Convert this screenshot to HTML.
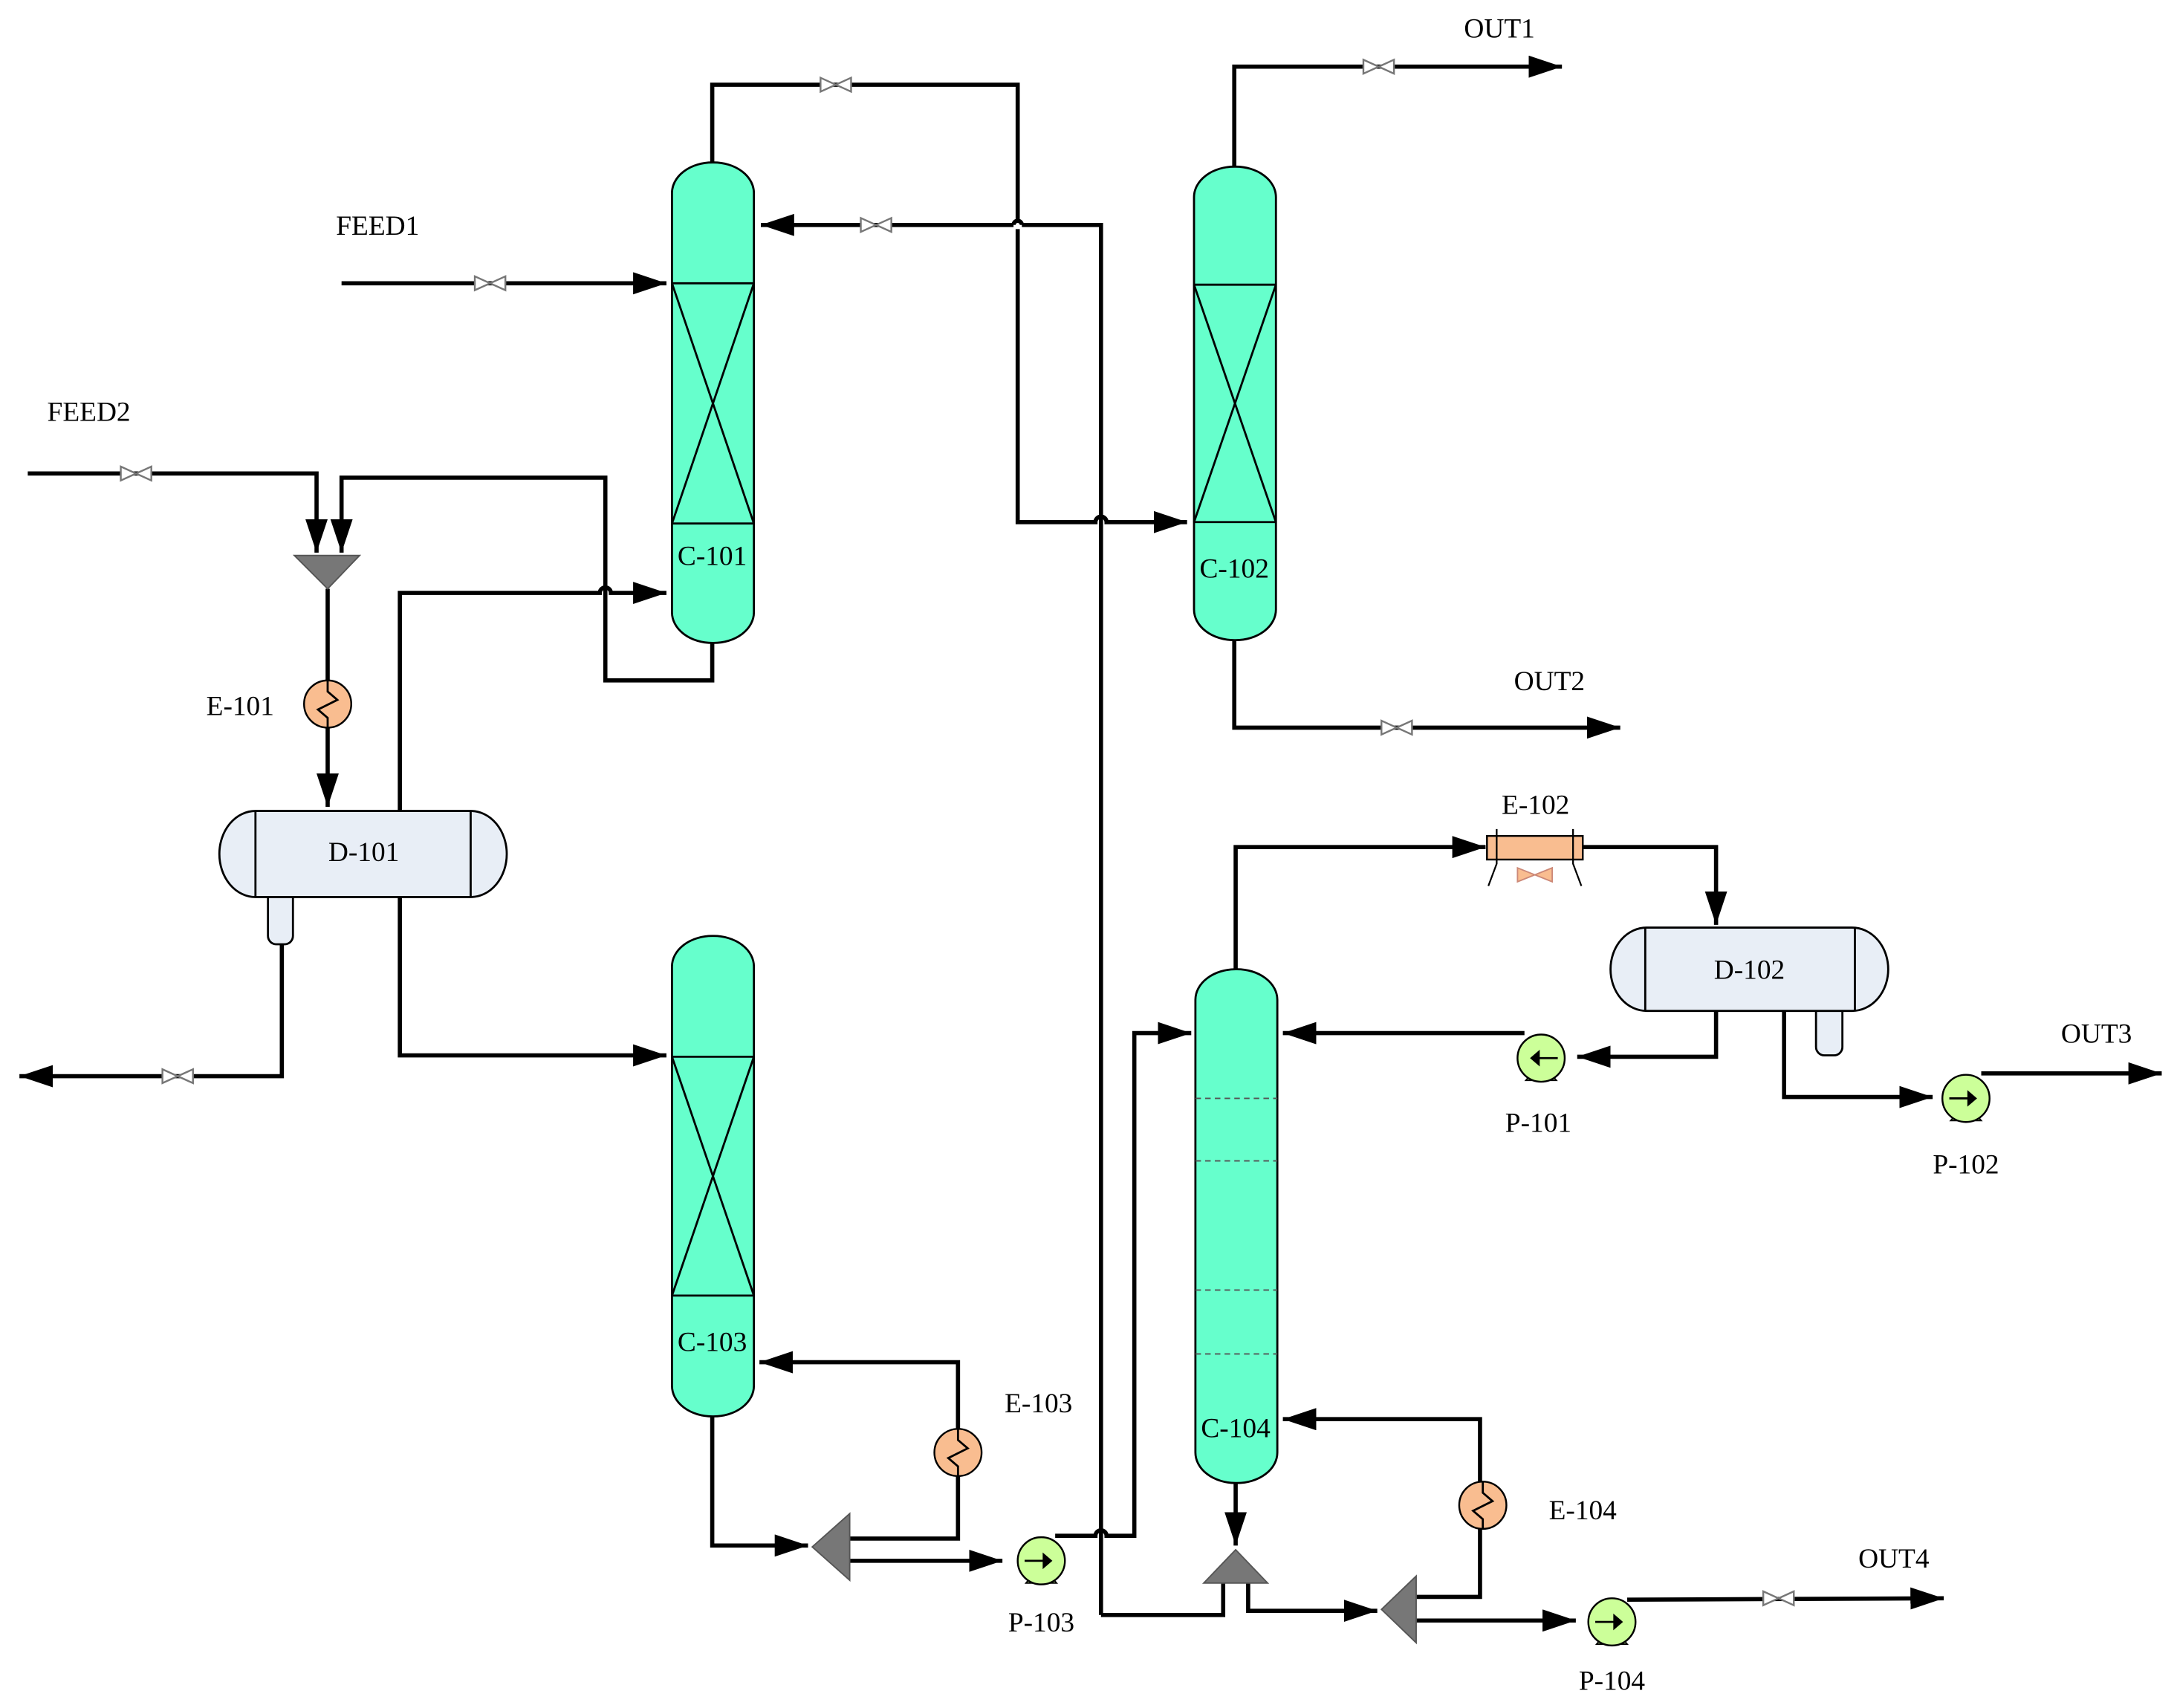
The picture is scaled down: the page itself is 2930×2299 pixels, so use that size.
<!DOCTYPE html>
<html><head><meta charset="utf-8"><style>html,body{margin:0;padding:0;background:#fff}svg{display:block}</style></head>
<body>
<svg width="2930" height="2299" viewBox="0 0 1568 1230" preserveAspectRatio="none" xmlns="http://www.w3.org/2000/svg" font-family="'Liberation Serif', serif" font-size="20">
<defs>
<marker id="a" markerUnits="userSpaceOnUse" markerWidth="26" markerHeight="18" refX="24" refY="8" orient="auto"><polygon points="0,0 24,8 0,16" fill="#000"/></marker>
<g id="v"><polygon points="-11,-5 11,5 11,-5 -11,5" fill="#fff" stroke="#777" stroke-width="1.3"/></g>
<g id="p"><path d="M-11,16 L-6,10 L6,10 L11,16 Z" fill="#ccff99" stroke="#000" stroke-width="1"/><circle r="17" fill="#ccff99" stroke="#000" stroke-width="1.3"/><line x1="-12" y1="0" x2="6" y2="0" stroke="#000" stroke-width="1.5"/><polygon points="8,0 1,-6 1,6" fill="#000"/></g>
<g id="hx"><circle r="17" fill="#f9bd90" stroke="#000" stroke-width="1.3"/><path d="M0,-17 L0,-9 L7,-3 L-7,4 L0,10 L0,17" fill="none" stroke="#000" stroke-width="1.5"/></g>
</defs>
<g fill="none" stroke="#000" stroke-width="3">
<polyline points="513,117 513,61 733,61 733,159"/>
<path d="M733,165 L733,376 L789,376 a4,4 0 0 1 8,0 L855,376" marker-end="url(#a)"/>
<path d="M730,162 a3,3 0 0 1 6,0"/>
<path d="M793,1163 L793,162 L736,162 M730,162 L548,162" marker-end="url(#a)"/>
<path d="M246,204 L480,204" marker-end="url(#a)"/>
<path d="M20,341 L228,341 L228,398" marker-end="url(#a)"/>
<path d="M513,463 L513,490 L436,490 L436,344 L246,344 L246,398" marker-end="url(#a)"/>
<path d="M236,424 L236,581" marker-end="url(#a)"/>
<path d="M288,584 L288,427 L432,427 a4,4 0 0 1 8,0 L480,427" marker-end="url(#a)"/>
<path d="M288,646 L288,760 L480,760" marker-end="url(#a)"/>
<path d="M203,680 L203,775 L14,775" marker-end="url(#a)"/>
<path d="M889,120 L889,48 L1125,48" marker-end="url(#a)"/>
<path d="M889,461 L889,524 L1167,524" marker-end="url(#a)"/>
<path d="M890,698 L890,610 L1070,610" marker-end="url(#a)"/>
<path d="M1140,610 L1236,610 L1236,666" marker-end="url(#a)"/>
<path d="M1236,728 L1236,761 L1136,761" marker-end="url(#a)"/>
<path d="M1098,744 L924,744" marker-end="url(#a)"/>
<path d="M1285,728 L1285,790 L1392,790" marker-end="url(#a)"/>
<path d="M1427,773 L1557,773" marker-end="url(#a)"/>
<path d="M513,1020 L513,1113 L582,1113" marker-end="url(#a)"/>
<path d="M612,1108 L690,1108 L690,1063 M690,1029 L690,981 L547,981" marker-end="url(#a)"/>
<path d="M612,1124 L722,1124" marker-end="url(#a)"/>
<path d="M760,1106 L789,1106 a4,4 0 0 1 8,0 L817,1106 L817,744 L858,744" marker-end="url(#a)"/>
<path d="M890,1068 L890,1113" marker-end="url(#a)"/>
<path d="M793,1163 L881,1163 L881,1140"/>
<path d="M899,1140 L899,1160 L992,1160" marker-end="url(#a)"/>
<path d="M1020,1150 L1066,1150 L1066,1101 M1066,1067 L1066,1022 L924,1022" marker-end="url(#a)"/>
<path d="M1020,1167 L1135,1167" marker-end="url(#a)"/>
<path d="M1172,1152 L1400,1151" marker-end="url(#a)"/>
</g>
<g fill="#66ffcc" stroke="#000" stroke-width="1.5">
<rect x="484" y="117" width="59" height="346" rx="29" ry="22"/>
<rect x="860" y="120" width="59" height="341" rx="29" ry="22"/>
<rect x="484" y="674" width="59" height="346" rx="29" ry="22"/>
<rect x="861" y="698" width="59" height="370" rx="29" ry="22"/>
</g>
<g fill="none" stroke="#000" stroke-width="1.5">
<path d="M484,204 L543,204 M484,377 L543,377 M484,204 L543,377 M543,204 L484,377"/>
<path d="M860,205 L919,205 M860,376 L919,376 M860,205 L919,376 M919,205 L860,376"/>
<path d="M484,761 L543,761 M484,933 L543,933 M484,761 L543,933 M543,761 L484,933"/>
</g>
<g stroke="#555" stroke-width="1" stroke-dasharray="4,3">
<line x1="861" y1="791" x2="920" y2="791"/><line x1="861" y1="836" x2="920" y2="836"/>
<line x1="861" y1="929" x2="920" y2="929"/><line x1="861" y1="975" x2="920" y2="975"/>
</g>
<g fill="#e8eef6" stroke="#000" stroke-width="1.5">
<path d="M193,640 L193,674 a6,6 0 0 0 6,6 L205,680 a6,6 0 0 0 6,-6 L211,640"/>
<rect x="158" y="584" width="207" height="62" rx="26" ry="31"/>
<path d="M1308,722 L1308,754 a6,6 0 0 0 6,6 L1321,760 a6,6 0 0 0 6,-6 L1327,722"/>
<rect x="1160" y="668" width="200" height="60" rx="26" ry="30"/>
</g>
<g stroke="#000" stroke-width="1.5">
<line x1="184" y1="584" x2="184" y2="646"/><line x1="339" y1="584" x2="339" y2="646"/>
<line x1="1185" y1="668" x2="1185" y2="728"/><line x1="1336" y1="668" x2="1336" y2="728"/>
</g>
<g fill="#777" stroke="#555" stroke-width="1">
<polygon points="212,400 259,400 236,424"/>
<polygon points="585,1114 612,1090 612,1138"/>
<polygon points="867,1140 913,1140 890,1116"/>
<polygon points="995,1159 1020,1135 1020,1183"/>
</g>
<use href="#hx" x="236" y="507"/>
<use href="#hx" x="690" y="1046"/>
<use href="#hx" x="1068" y="1084"/>
<rect x="1071" y="602" width="69" height="17" fill="#f9bd90" stroke="#000" stroke-width="1.3"/>
<g stroke="#000" stroke-width="1.2" fill="none"><path d="M1078,597 L1078,622 L1072,638 M1133,597 L1133,622 L1139,638"/></g>
<path d="M1093,625 L1118,635 L1118,625 L1093,635 Z" fill="#f9bd90" stroke="#c87" stroke-width="1"/>
<use href="#p" x="1110" y="762" transform="translate(2220,0) scale(-1,1)"/>
<use href="#p" x="1416" y="791"/>
<use href="#p" x="750" y="1124"/>
<use href="#p" x="1161" y="1168"/>
<use href="#v" x="602" y="61"/><use href="#v" x="631" y="162"/><use href="#v" x="353" y="204"/>
<use href="#v" x="98" y="341"/><use href="#v" x="128" y="775"/><use href="#v" x="993" y="48"/>
<use href="#v" x="1006" y="524"/><use href="#v" x="1281" y="1151"/>
<g fill="#000" text-anchor="middle">
<text x="513" y="407">C-101</text><text x="889" y="416">C-102</text>
<text x="513" y="973">C-103</text><text x="890" y="1035">C-104</text>
<text x="262" y="620">D-101</text><text x="1260" y="705">D-102</text>
<text x="272" y="169">FEED1</text><text x="64" y="303">FEED2</text>
<text x="173" y="515">E-101</text><text x="1106" y="586">E-102</text>
<text x="748" y="1017">E-103</text><text x="1140" y="1094">E-104</text>
<text x="1108" y="815">P-101</text><text x="1416" y="845">P-102</text>
<text x="750" y="1175">P-103</text><text x="1161" y="1217">P-104</text>
<text x="1080" y="27">OUT1</text><text x="1116" y="497">OUT2</text>
<text x="1510" y="751">OUT3</text><text x="1364" y="1129">OUT4</text>
</g>
</svg>
</body></html>
